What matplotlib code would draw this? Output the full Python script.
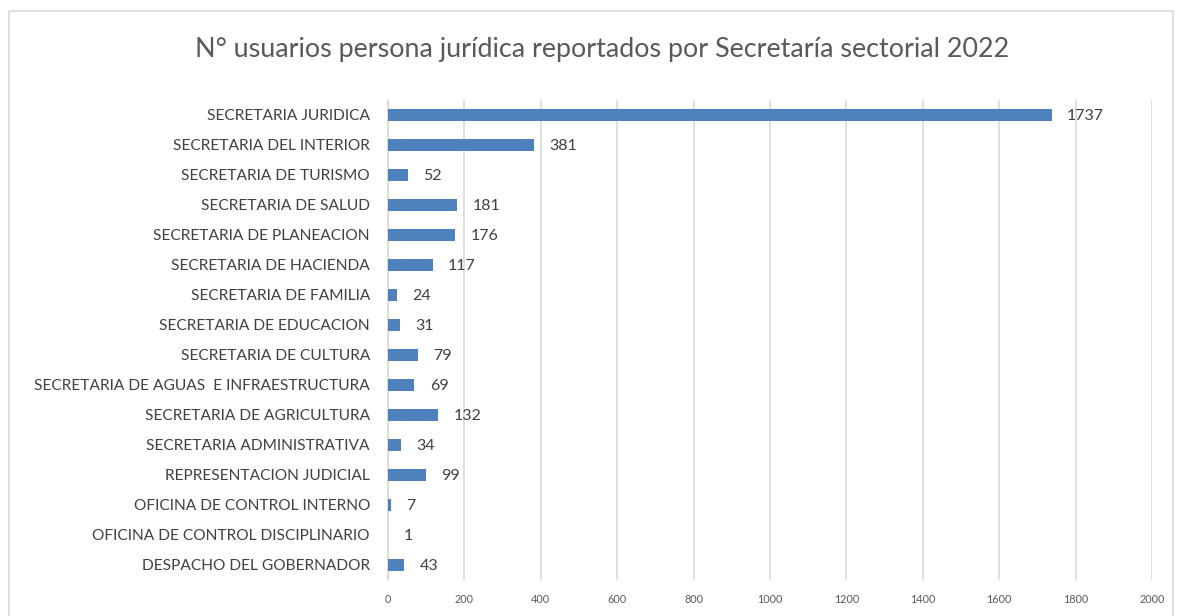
import matplotlib.pyplot as plt
from matplotlib.patches import Rectangle

# categories from bottom to top (as drawn by the category axis)
secretarias = [
    "DESPACHO DEL GOBERNADOR",
    "OFICINA DE CONTROL DISCIPLINARIO",
    "OFICINA DE CONTROL INTERNO",
    "REPRESENTACION JUDICIAL",
    "SECRETARIA ADMINISTRATIVA",
    "SECRETARIA DE AGRICULTURA",
    "SECRETARIA DE AGUAS  E INFRAESTRUCTURA",
    "SECRETARIA DE CULTURA",
    "SECRETARIA DE EDUCACION",
    "SECRETARIA DE FAMILIA",
    "SECRETARIA DE HACIENDA",
    "SECRETARIA DE PLANEACION",
    "SECRETARIA DE SALUD",
    "SECRETARIA DE TURISMO",
    "SECRETARIA DEL INTERIOR",
    "SECRETARIA JURIDICA",
]
usuarios = [43, 1, 7, 99, 34, 132, 69, 79, 31, 24, 117, 176, 181, 52, 381, 1737]
x_ticks = list(range(0, 2001, 200))

plt.rcParams['font.family'] = ['Lato', 'DejaVu Sans']

fig = plt.figure(figsize=(11.8, 6.16), dpi=100)
fig.patch.set_facecolor('white')

# chart border
fig.add_artist(Rectangle((9 / 1180, -0.05), (1173 - 9) / 1180, 1.05 - 11 / 616,
                         transform=fig.transFigure, fill=False,
                         edgecolor='#d9d9d9', linewidth=1.2))

ax = fig.add_axes([388 / 1180, 1 - 580 / 616, (1152 - 388) / 1180, 480 / 616])

pos = list(range(len(secretarias)))
ax.barh(pos, usuarios, height=0.42, color='#4f81bd', zorder=3)

for p, v in zip(pos, usuarios):
    ax.annotate(str(v), (v, p), xytext=(11, -1), textcoords='offset points',
                va='center', ha='left', fontsize=11.5, color='#404040')

ax.set_ylim(-0.5, len(secretarias) - 0.5)
ax.set_xlim(0, 2000)
ax.set_yticks(pos)
ax.set_yticklabels(secretarias, fontsize=11.2, color='#404040')
ax.set_xticks(x_ticks)
ax.set_xticklabels([str(t) for t in x_ticks], fontsize=7.8, color='#595959')
ax.tick_params(axis='both', length=0)
ax.tick_params(axis='y', pad=13)
ax.tick_params(axis='x', pad=10)

ax.grid(axis='x', color='#d9d9d9', linewidth=1.2, zorder=0)
for s in ['top', 'right', 'bottom']:
    ax.spines[s].set_visible(False)
ax.spines['left'].set_color('#d9d9d9')
ax.spines['left'].set_linewidth(1.2)

fig.text(602 / 1180, 1 - 50 / 616,
         "N° usuarios persona jurídica reportados por Secretaría sectorial 2022",
         ha='center', va='center', fontsize=19.4, color='#595959')

fig.savefig('out.png', dpi=100)
